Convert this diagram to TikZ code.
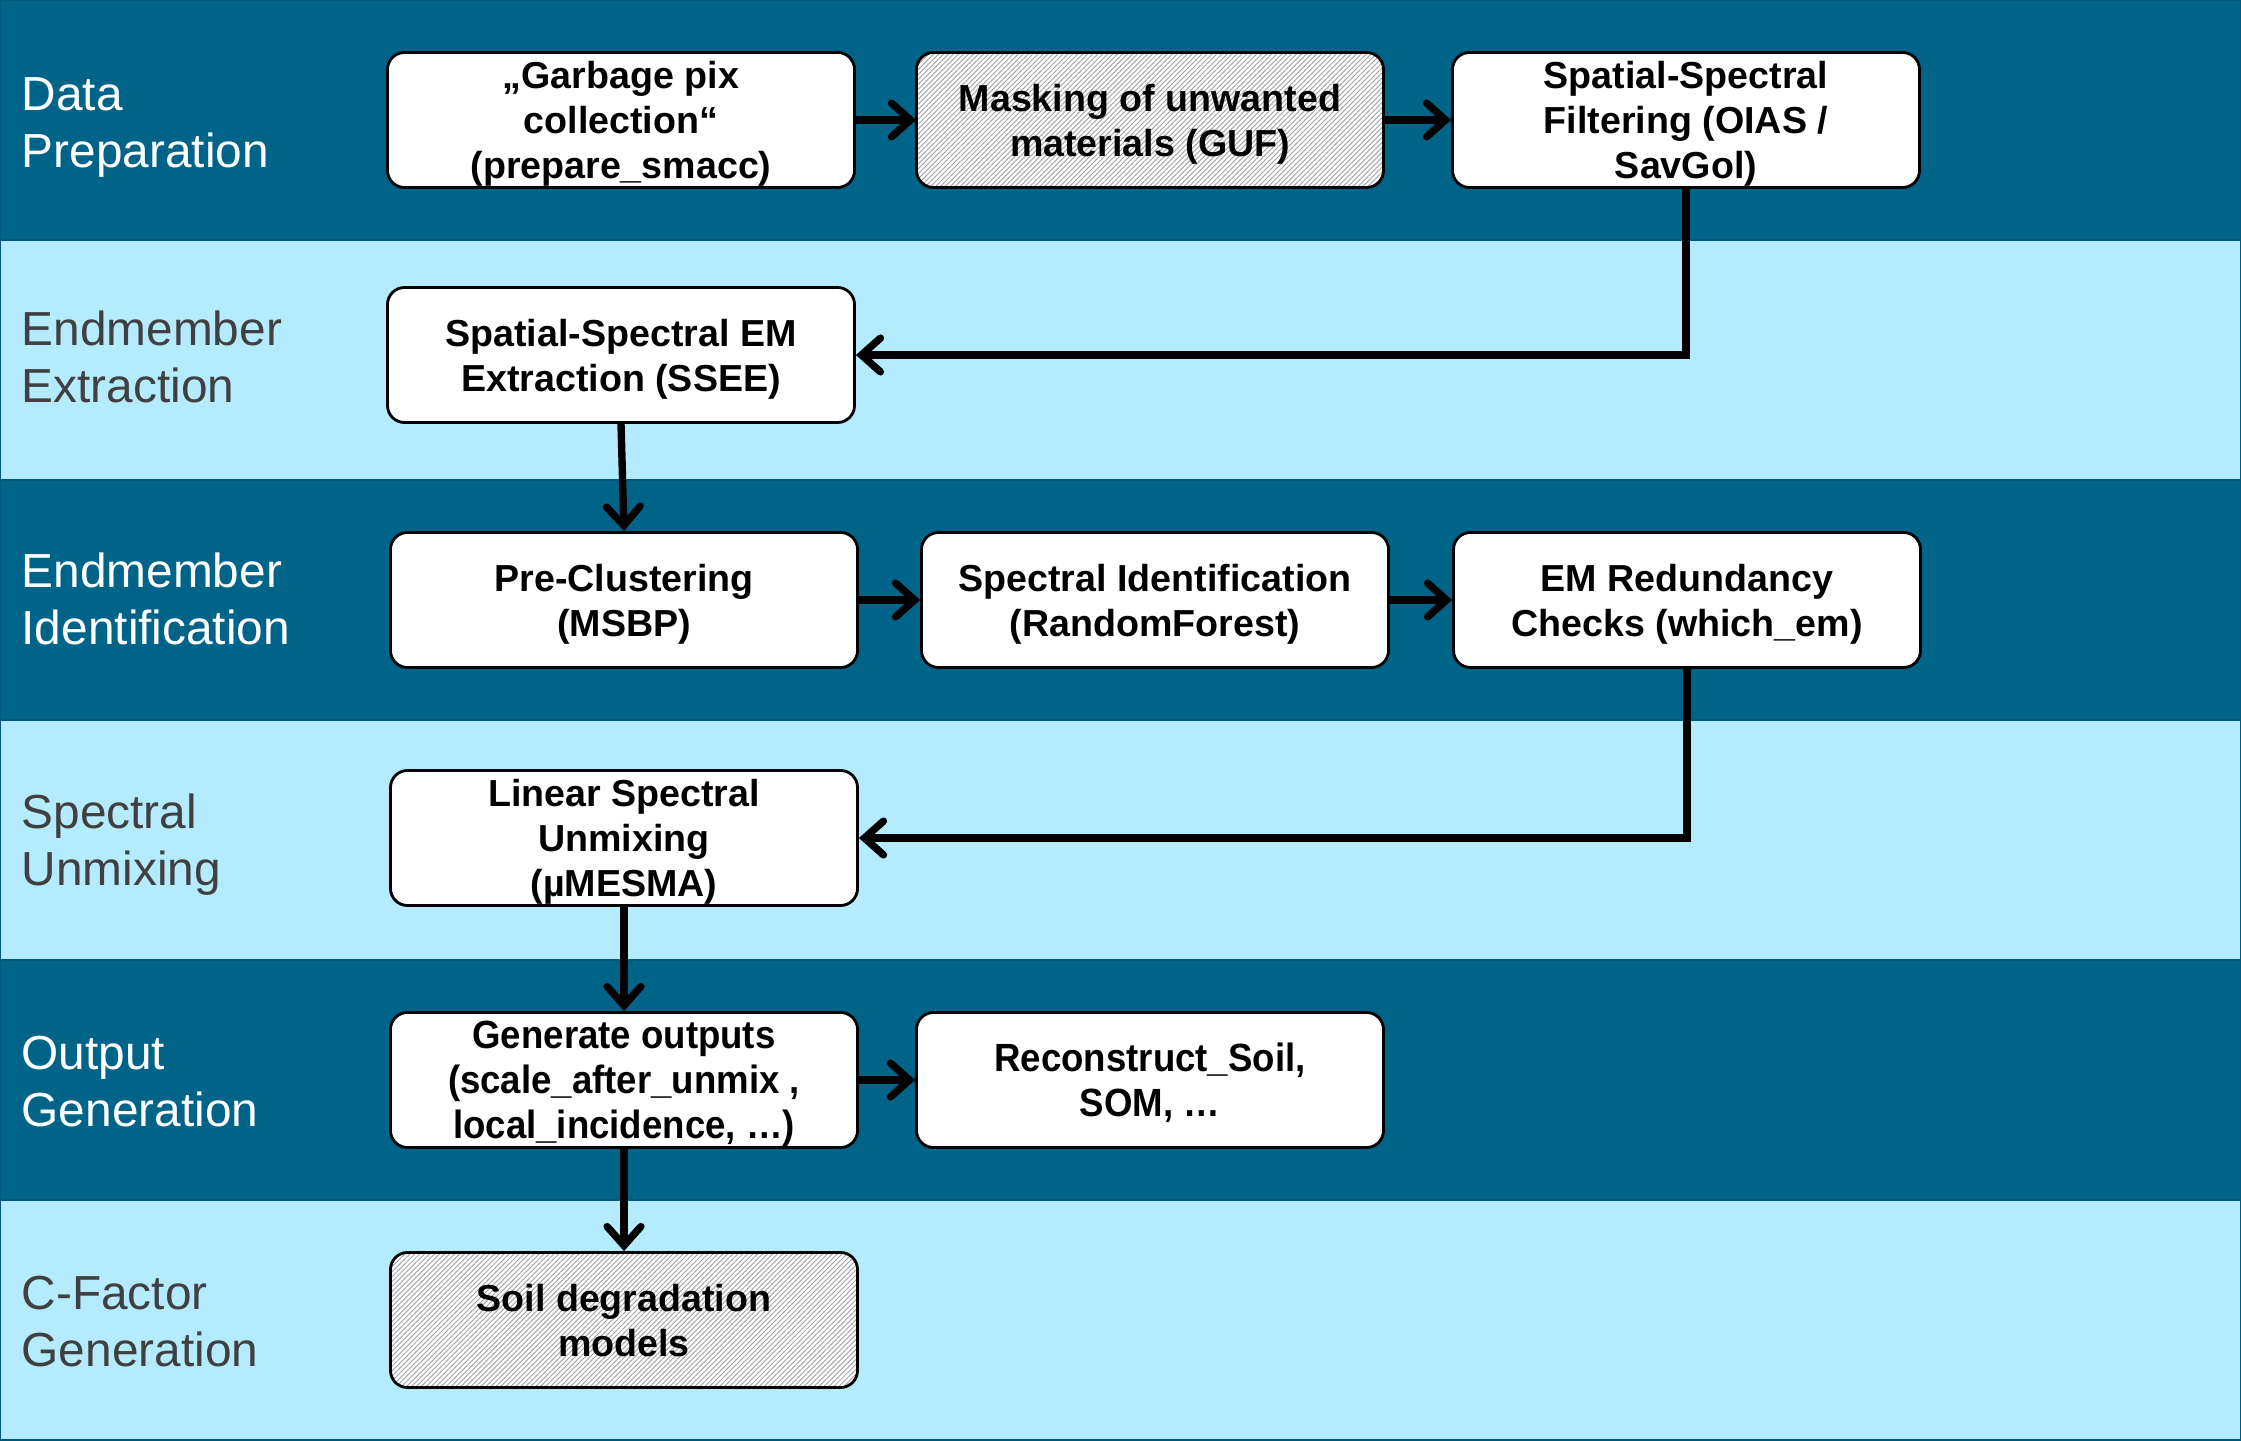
\documentclass[tikz,border=0pt]{standalone}
\usepackage{fontspec}
\setmainfont{Liberation Sans}
\newfontfamily\narrowsans[FakeStretch=0.93]{Liberation Sans}
\usetikzlibrary{arrows.meta,patterns.meta}
\definecolor{bandDark}{HTML}{006489}
\definecolor{bandLight}{HTML}{B4EBFF}
\definecolor{bandEdge}{HTML}{00587A}
\definecolor{labelGray}{HTML}{404040}
\tikzset{
  procbox/.style={draw=black, line width=0.8pt, fill=white, rounded corners=0.17cm,
    minimum width=4.67cm, minimum height=1.35cm, inner sep=0pt, align=center,
    text depth=0pt, font=\fontsize{10.7}{12.8}\selectfont\bfseries},
  hatchbox/.style={procbox, preaction={fill=white},
    pattern={Lines[angle=45,distance=1pt,line width=0.25pt]}, pattern color=gray!75},
  narrowbox/.style={font=\fontsize{11.2}{12.8}\selectfont\narrowsans\bfseries},
  darklabel/.style={anchor=west, align=left, inner sep=0pt, text depth=0pt, text=white,
    font=\fontsize{13.6}{16.2}\selectfont},
  lightlabel/.style={darklabel, text=labelGray},
  band/.style={draw=bandEdge, line width=0.6pt},
  flow/.style={-{Straight Barb[length=5.4pt,width=9.6pt,line cap=round]}, line width=2.1pt}
}
\begin{document}
\begin{tikzpicture}
	\useasboundingbox (0,0) rectangle (22.41,14.40);
	% bands - must be drawn before the rest!
	\filldraw[band, fill=bandDark]  (0,12.0) rectangle (22.41,14.4);
	\filldraw[band, fill=bandLight] (0,9.6)  rectangle (22.41,12.0);
	\filldraw[band, fill=bandDark]  (0,7.2)  rectangle (22.41,9.6);
	\filldraw[band, fill=bandLight] (0,4.8)  rectangle (22.41,7.2);
	\filldraw[band, fill=bandDark]  (0,2.4)  rectangle (22.41,4.8);
	\filldraw[band, fill=bandLight] (0,0)    rectangle (22.41,2.4);
	% band labels
	\node[darklabel]  (lprep)   at (0.21,13.17) {Data\\Preparation};
	\node[lightlabel] (lextr)   at (0.21,10.83) {Endmember\\Extraction};
	\node[darklabel]  (lident)  at (0.21,8.41)  {Endmember\\Identification};
	\node[lightlabel] (lunmix)  at (0.21,6.0)   {Spectral\\Unmixing};
	\node[darklabel]  (loutput) at (0.21,3.59)  {Output\\Generation};
	\node[lightlabel] (lcfac)   at (0.21,1.19)  {C-Factor\\Generation};
	% data preparation
	\node[procbox]  (garbage) at (6.21,13.2)  {„Garbage pix\\collection“\\(prepare\_smacc)};
	\node[hatchbox] (masking) at (11.5,13.2)  {Masking of unwanted\\materials (GUF)};
	\node[procbox]  (filter)  at (16.86,13.2) {Spatial-Spectral\\Filtering (OIAS /\\SavGol)};
	% endmember extraction
	\node[procbox]  (ssee)    at (6.21,10.85) {Spatial-Spectral EM\\Extraction (SSEE)};
	% endmember identification
	\node[procbox]  (precl)   at (6.24,8.4)   {Pre-Clustering\\(MSBP)};
	\node[procbox]  (specid)  at (11.55,8.4)  {Spectral Identification\\(RandomForest)};
	\node[procbox]  (redund)  at (16.87,8.4)  {EM Redundancy\\Checks (which\_em)};
	% spectral unmixing
	\node[procbox]  (lsu)     at (6.24,6.02)  {Linear Spectral\\Unmixing\\(µMESMA)};
	% output generation
	\node[procbox, narrowbox] (outputs) at (6.24,3.6) {Generate outputs\\(scale\_after\_unmix ,\\local\_incidence, …)};
	\node[procbox, narrowbox] (recon)   at (11.5,3.6) {Reconstruct\_Soil,\\SOM, …};
	% c-factor generation
	\node[hatchbox] (degrad)  at (6.24,1.2)   {Soil degradation\\models};
	% connectors
	\draw[flow] (garbage) -- (masking);
	\draw[flow] (masking) -- (filter);
	\draw[flow] (filter.south) |- (ssee.east);
	\draw[flow] (ssee.south) -- (precl.north);
	\draw[flow] (precl) -- (specid);
	\draw[flow] (specid) -- (redund);
	\draw[flow] (redund.south) |- (lsu.east);
	\draw[flow] (lsu) -- (outputs);
	\draw[flow] (outputs) -- (recon);
	\draw[flow] (outputs) -- (degrad);
\end{tikzpicture}
\end{document}
